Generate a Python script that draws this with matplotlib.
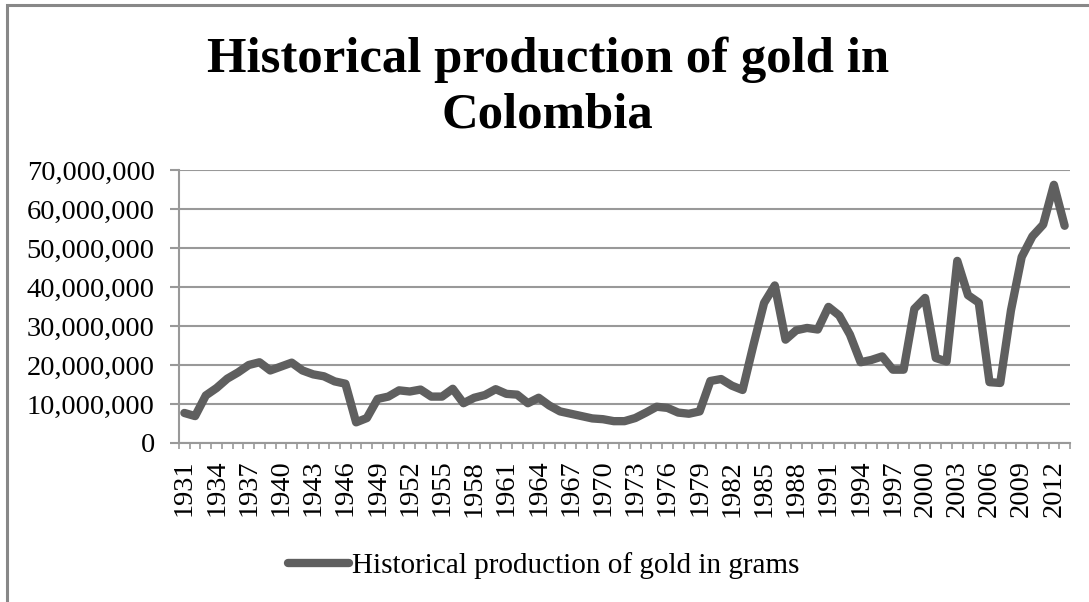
import numpy as np
import matplotlib
matplotlib.use("Agg")
import matplotlib.pyplot as plt
from matplotlib.patches import Rectangle
from matplotlib.ticker import FuncFormatter

# data (grams per year)
years = list(range(1931, 2014))
production = [
    7.7e6, 6.9e6, 12.2e6, 14.1e6, 16.5e6, 18.1e6, 20.0e6, 20.7e6, 18.6e6, 19.6e6,
    20.6e6, 18.6e6, 17.6e6, 17.1e6, 15.8e6, 15.2e6, 5.3e6, 6.4e6, 11.3e6, 11.9e6,
    13.5e6, 13.2e6, 13.7e6, 11.9e6, 11.9e6, 13.9e6, 10.2e6, 11.6e6, 12.3e6, 13.8e6,
    12.6e6, 12.4e6, 10.2e6, 11.6e6, 9.6e6, 8.1e6, 7.5e6, 6.9e6, 6.3e6, 6.1e6,
    5.6e6, 5.6e6, 6.4e6, 7.8e6, 9.3e6, 9.0e6, 7.8e6, 7.5e6, 8.1e6, 15.9e6,
    16.4e6, 14.7e6, 13.6e6, 25.0e6, 35.9e6, 40.4e6, 26.5e6, 28.9e6, 29.5e6, 29.1e6,
    34.9e6, 32.7e6, 27.8e6, 20.7e6, 21.3e6, 22.2e6, 18.8e6, 18.8e6, 34.4e6, 37.2e6,
    21.8e6, 20.9e6, 46.7e6, 37.9e6, 36.0e6, 15.6e6, 15.4e6, 34.0e6, 47.7e6, 53.0e6,
    56.0e6, 66.2e6, 55.7e6,
]
title = "Historical production of gold in\nColombia"
series_name = "Historical production of gold in grams"

serif = ["Liberation Serif", "DejaVu Serif"]
grid_col = "#999999"
line_col = "#5f5f5f"

fig = plt.figure(figsize=(10.89, 6.02), dpi=100)

# outer chart frame (only top and left edges are visible in the image)
fig.patches.append(Rectangle((7 / 1089, -0.05), 1.2, 1 - 5 / 602 + 0.05,
                             transform=fig.transFigure, fill=False,
                             edgecolor="#888888", lw=2.2))

ax = fig.add_axes([179 / 1089, (602 - 443) / 602, (1070 - 179) / 1089, 273 / 602])

x = np.arange(len(years))
ax.plot(x, production, color=line_col, lw=6, solid_joinstyle="round",
        solid_capstyle="round", label=series_name)

ax.set_xlim(-0.5, len(years) - 0.5)
ax.set_ylim(0, 70e6)
ax.set_yticks(np.arange(0, 70e6 + 1, 10e6))
ax.yaxis.set_major_formatter(FuncFormatter(lambda v, p: f"{int(v):,}"))
ax.grid(axis="y", color=grid_col, lw=1.5)
ax.set_axisbelow(True)

ax.set_xticks(x[::3])
ax.set_xticklabels([str(y) for y in years[::3]], rotation=90)
ax.set_xticks(np.arange(-0.5, len(years)), minor=True)
ax.tick_params(axis="x", which="major", length=0, pad=12)
ax.tick_params(axis="x", which="minor", length=4, color=grid_col, width=1.2)
ax.tick_params(axis="y", length=6.5, color=grid_col, width=1.5, pad=11)

for lab in ax.get_xticklabels() + ax.get_yticklabels():
    lab.set_family(serif)
    lab.set_fontsize(20.5)

for s in ["top", "right"]:
    ax.spines[s].set_visible(False)
for s in ["left", "bottom"]:
    ax.spines[s].set_color(grid_col)
    ax.spines[s].set_linewidth(1.5)

fig.text(0.503, 1 - 37 / 602, title, ha="center", va="top", family=serif,
         fontweight="bold", fontsize=36.5, linespacing=1.27)

leg = fig.legend(loc="center", bbox_to_anchor=(544 / 1089, 1 - 566 / 602),
                 frameon=False, prop={"family": serif, "size": 21},
                 handlelength=2.1, handletextpad=0.1)

fig.savefig("out.png", dpi=100)
